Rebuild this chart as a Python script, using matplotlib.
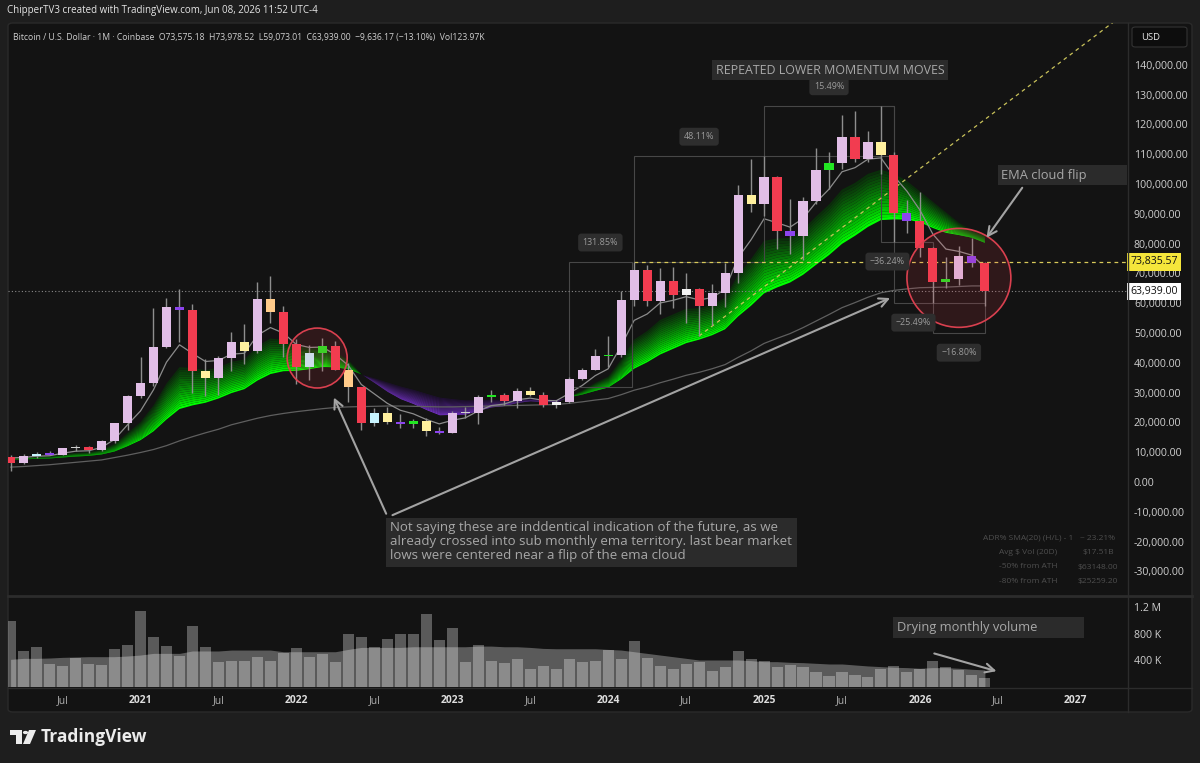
import numpy as np
import pandas as pd
import matplotlib
matplotlib.use("Agg")
import matplotlib.pyplot as plt
from matplotlib.patches import Ellipse, FancyBboxPatch, Rectangle, Polygon, Circle
from matplotlib.lines import Line2D
from matplotlib.colors import to_rgb
from matplotlib.ticker import FuncFormatter

plt.rcParams['font.family'] = ['Open Sans', 'DejaVu Sans']

# colores
BG_OUT = '#1e1e1e'
BG_IN = '#131313'
SEP = '#2c2c2c'
TXT = '#cfcfcf'
BOX = '#2b2b2b'
WICK = '#8e8e8e'
CANDLE_COL = {'r': '#f23c50', 'p': '#e1bee7', 'u': '#8c44ee', 'y': '#fff09e',
              'o': '#ffcb8a', 'c': '#c8f4ff', 'g': '#22e622', 'w': '#f2f2f2',
              'x': '#cfcfcf'}

W, H = 1200, 763

# ---------------- datos (velas mensuales BTC/USD, miles de USD) ----------------
months = pd.date_range('2020-03-01', '2026-06-01', freq='MS')

open_k = [8.52, 6.41, 8.62, 9.45, 9.14, 11.35, 11.66, 10.78, 13.80, 19.71,
          28.99, 33.11, 45.14, 58.79, 57.72, 37.33, 35.04, 41.46, 47.13, 43.82,
          61.30, 57.00, 46.21, 38.47, 43.19, 45.54, 37.71, 31.79, 19.94, 23.30,
          20.05, 19.43, 20.49, 17.17, 16.54, 23.13, 23.15, 28.47, 29.25, 27.21,
          30.47, 29.23, 25.94, 26.97, 34.66, 37.72, 42.27, 42.58, 61.13, 71.29,
          60.64, 67.49, 62.75, 64.62, 58.97, 63.33, 70.22, 96.41, 93.39, 102.41,
          84.35, 82.55, 94.21, 104.64, 107.14, 115.76, 108.25, 114.05, 109.60, 90.40,
          87.50, 78.50, 67.00, 68.20, 75.80, 73.58]
high_k = [9.19, 9.47, 10.08, 10.38, 11.45, 12.49, 12.08, 14.10, 19.94, 29.30,
          41.95, 58.35, 61.79, 64.90, 59.60, 41.33, 42.40, 50.50, 52.92, 67.01,
          69.00, 59.10, 47.99, 45.82, 48.24, 47.46, 40.00, 31.99, 24.67, 25.21,
          22.80, 21.09, 21.48, 18.39, 23.96, 25.25, 29.19, 31.00, 29.82, 31.43,
          31.80, 30.18, 27.49, 35.20, 38.42, 44.73, 48.97, 63.99, 73.84, 72.80,
          71.95, 71.98, 70.01, 65.00, 66.50, 73.60, 99.59, 108.27, 109.35, 102.75,
          95.04, 95.76, 111.98, 110.60, 123.23, 124.46, 117.90, 126.27, 110.70, 94.60,
          97.30, 79.00, 75.50, 79.20, 81.90, 73.98]
low_k = [3.85, 6.15, 8.11, 8.90, 8.99, 10.53, 9.88, 10.37, 13.21, 17.57,
         28.13, 32.30, 44.96, 47.04, 30.00, 28.80, 29.28, 37.33, 39.60, 43.28,
         53.26, 42.00, 32.92, 34.32, 37.16, 37.70, 26.70, 17.59, 18.78, 19.52,
         18.15, 18.19, 15.48, 16.26, 16.50, 21.35, 19.57, 26.94, 25.81, 24.75,
         28.86, 25.33, 24.90, 26.55, 34.10, 37.62, 38.55, 41.88, 59.00, 59.10,
         56.50, 58.40, 53.50, 49.00, 52.55, 58.87, 66.80, 90.50, 89.16, 78.17,
         76.56, 74.42, 93.30, 98.20, 105.12, 107.30, 107.25, 103.50, 80.50, 83.50,
         75.50, 60.00, 65.10, 66.10, 72.10, 59.07]
close_k = [6.41, 8.62, 9.45, 9.14, 11.35, 11.66, 10.78, 13.80, 19.71, 28.99,
           33.11, 45.14, 58.79, 57.72, 37.33, 35.04, 41.46, 47.13, 43.82, 61.30,
           57.00, 46.21, 38.47, 43.19, 45.54, 37.71, 31.79, 19.94, 23.30, 20.05,
           19.43, 20.49, 17.17, 16.54, 23.13, 23.15, 28.47, 29.25, 27.21, 30.47,
           29.23, 25.94, 26.97, 34.66, 37.72, 42.27, 42.58, 61.13, 71.29, 60.64,
           67.49, 62.75, 64.62, 58.97, 63.33, 70.22, 96.41, 93.39, 102.41, 84.35,
           82.55, 94.21, 104.64, 107.14, 115.76, 108.25, 114.05, 109.60, 90.40, 87.50,
           78.50, 67.00, 68.20, 75.80, 73.58, 63.94]
candle_kind = list('rpcupxrppp' 'pppuryppyp' 'orrcgrorcy' 'ugyupxpgrp'
                   'yrwpppgppr' 'prwrpppypr' 'uppgprpyru' 'rrgpur')

# volumen mensual (millones) y su media
volume_m = [0.99, 0.53, 0.60, 0.34, 0.31, 0.43, 0.34, 0.33, 0.57, 0.62,
            1.14, 0.75, 0.61, 0.46, 0.92, 0.60, 0.37, 0.39, 0.39, 0.45,
            0.39, 0.51, 0.58, 0.45, 0.49, 0.37, 0.79, 0.75, 0.60, 0.72,
            0.80, 0.79, 1.09, 0.70, 0.88, 0.37, 0.62, 0.38, 0.35, 0.41,
            0.27, 0.31, 0.27, 0.41, 0.37, 0.38, 0.55, 0.41, 0.68, 0.43,
            0.31, 0.27, 0.34, 0.37, 0.24, 0.29, 0.54, 0.42, 0.38, 0.30,
            0.33, 0.29, 0.22, 0.16, 0.22, 0.17, 0.15, 0.26, 0.31, 0.22,
            0.27, 0.385, 0.29, 0.25, 0.18, 0.124]
volume_ma_m = [0.41, 0.425, 0.425, 0.43, 0.44, 0.445, 0.45, 0.45, 0.45, 0.46,
               0.475, 0.50, 0.50, 0.50, 0.536, 0.536, 0.536, 0.55, 0.55, 0.55,
               0.55, 0.525, 0.525, 0.525, 0.525, 0.525, 0.56, 0.59, 0.59, 0.59,
               0.59, 0.60, 0.60, 0.60, 0.60, 0.60, 0.61, 0.61, 0.60, 0.60,
               0.59, 0.575, 0.57, 0.57, 0.57, 0.57, 0.56, 0.55, 0.525, 0.50,
               0.475, 0.45, 0.425, 0.40, 0.40, 0.40, 0.40, 0.39, 0.375, 0.375,
               0.365, 0.36, 0.35, 0.34, 0.34, 0.325, 0.31, 0.30, 0.29, 0.285,
               0.275, 0.285, 0.285, 0.275, 0.26, 0.25]

# lineas del indicador (miles de USD)
ema_fast_k = [8.07, 8.25, 8.65, 8.81, 9.66, 10.33, 10.48, 11.59, 14.30, 19.20,
              23.84, 30.94, 40.22, 46.05, 43.14, 40.44, 40.78, 42.90, 43.21, 49.24,
              51.83, 49.96, 46.13, 45.15, 45.28, 42.76, 39.10, 32.71, 29.57, 26.40,
              24.08, 22.88, 20.98, 19.50, 20.71, 21.52, 23.84, 25.64, 26.16, 27.60,
              28.14, 27.41, 27.26, 29.73, 32.39, 35.68, 37.98, 45.70, 54.23, 56.37,
              60.08, 60.97, 62.19, 61.12, 61.86, 64.65, 75.24, 81.29, 88.33, 87.00,
              85.52, 88.42, 93.83, 98.27, 104.10, 105.48, 108.34, 108.76, 102.64, 97.59,
              91.23, 83.15, 78.17, 77.38, 76.11, 72.05]
cloud_fast_k = [8.04, 8.17, 8.45, 8.60, 9.21, 9.76, 9.98, 10.83, 12.80, 16.40,
                20.11, 25.67, 33.03, 38.52, 38.25, 37.54, 38.41, 40.35, 41.12, 45.60,
                48.14, 47.71, 45.66, 45.11, 45.20, 43.54, 40.93, 36.27, 33.38, 30.42,
                27.98, 26.31, 24.28, 22.56, 22.69, 22.79, 24.05, 25.21, 25.65, 26.72,
                27.28, 26.98, 26.98, 28.69, 30.69, 33.27, 35.34, 41.07, 47.78, 50.64,
                54.38, 56.24, 58.11, 58.30, 59.41, 61.82, 69.50, 74.81, 80.94, 81.70,
                81.89, 84.63, 89.07, 93.09, 98.13, 100.38, 103.41, 104.79, 103.5, 101.0,
                97.5, 94.0, 90.5, 87.0, 84.5, 82.9]
cloud_slow_k = [7.49, 7.60, 7.77, 7.90, 8.23, 8.56, 8.77, 9.25, 10.25, 12.03,
                14.04, 17.00, 20.98, 24.48, 25.70, 26.59, 28.01, 29.83, 31.16, 34.03,
                36.22, 37.17, 37.29, 37.85, 38.59, 38.50, 37.86, 36.16, 34.93, 33.52,
                32.17, 31.06, 29.74, 28.48, 27.97, 27.52, 27.61, 27.76, 27.71, 27.97,
                28.09, 27.89, 27.80, 28.45, 29.34, 30.57, 31.71, 34.52, 38.02, 40.17,
                42.77, 44.68, 46.58, 47.76, 49.24, 51.24, 55.54, 59.15, 63.27, 65.27,
                66.92, 69.52, 72.86, 76.13, 79.90, 82.60, 85.60, 87.88, 88.12, 88.06,
                87.15, 85.23, 83.61, 82.87, 81.98, 80.27]
ma_long_k = [5.0, 5.2, 5.5, 5.8, 6.2, 6.6, 7.0, 7.4, 8.2, 9.0,
             9.9, 10.9, 12.2, 13.8, 15.2, 16.5, 17.7, 19.2, 20.3, 21.4,
             22.3, 23.0, 23.6, 24.1, 24.6, 25.0, 25.2, 25.3, 25.4, 25.5,
             25.5, 25.4, 25.3, 25.2, 25.2, 25.3, 25.4, 25.5, 25.6, 25.7,
             25.8, 25.9, 26.0, 26.4, 26.9, 27.5, 28.0, 29.3, 30.8, 31.9,
             33.3, 34.5, 35.8, 36.8, 38.0, 39.4, 41.8, 44.0, 46.5, 48.2,
             49.8, 51.8, 54.0, 56.2, 58.5, 60.2, 62.0, 63.5, 64.3, 64.8,
             65.2, 65.3, 65.4, 65.6, 65.8, 65.8]

ath_k = 73.83557
last_k = 63.939

# ---------------- figura ----------------
fig = plt.figure(figsize=(12, 7.63), dpi=100, facecolor=BG_OUT)


def fx(px):
    return px / W


def fy(py):
    return 1 - py / H


frame = FancyBboxPatch((fx(8), fy(712)), fx(1192) - fx(8), fy(23) - fy(712),
                       boxstyle='round,pad=0,rounding_size=0.004',
                       transform=fig.transFigure, fc=BG_IN, ec='#2a2a2a', lw=1, zorder=-5)
fig.patches.append(frame)

ax = fig.add_axes([fx(8), fy(595), fx(1127) - fx(8), fy(23) - fy(595)])
axv = fig.add_axes([fx(8), fy(687), fx(1127) - fx(8), fy(597) - fy(687)], sharex=ax)
for a in (ax, axv):
    a.set_facecolor('none')
    for s in a.spines.values():
        s.set_visible(False)

n = len(months)
x = np.arange(n)

# ---- nube EMA con degradado ----
def ramp(c0, c1, k, gamma):
    c0 = np.array(to_rgb(c0))
    c1 = np.array(to_rgb(c1))
    return [tuple(c0 + (c1 - c0) * (j / (k - 1)) ** gamma) for j in range(k)]


xf = np.linspace(0, n - 1, (n - 1) * 20 + 1)
ff = np.interp(xf, x, cloud_fast_k)
sf = np.interp(xf, x, cloud_slow_k)
lo = np.minimum(ff, sf)
hi = np.maximum(ff, sf)
bull = ff >= sf
layers = 18
greens = ramp('#00ff00', '#0a2e0a', layers, 0.8)
purples = ramp('#7a33d2', '#1f0f33', layers, 0.8)
for k in range(layers):
    a0 = lo + (hi - lo) * k / layers
    a1 = lo + (hi - lo) * (k + 1) / layers
    ax.fill_between(xf, a0, a1, where=bull, color=greens[k], lw=0, zorder=1)
    ax.fill_between(xf, a0, a1, where=~bull, color=purples[k], lw=0, zorder=1)

ax.plot(x, ma_long_k, color='#5f5f5f', lw=0.9, zorder=2)
ax.plot(x, ema_fast_k, color='#8c8c8c', lw=0.9, zorder=2)

# linea de tendencia y niveles
ax.plot([53, 86], [49.0, 158.0], color='#c9c25a', lw=0.9, ls=(0, (3, 3)), zorder=2.5)
ax.plot([48, 86], [ath_k, ath_k], color='#d8c95a', lw=0.9, ls=(0, (3, 3)), zorder=2.5)
ax.axhline(last_k, color='#8a8a8a', lw=0.8, ls=(0, (1, 2)), zorder=2.5)

# cajas de medicion
measure_boxes = [(43, 47.8, 31.85, 73.84, '131.85%', 1),
                 (48, 58, 73.84, 109.35, '48.11%', 1),
                 (58, 68, 109.35, 126.27, '15.49%', 1),
                 (67, 68, 126.27, 80.5, '\u221236.24%', -1),
                 (68, 71, 80.5, 60.0, '\u221225.49%', -1),
                 (71, 75, 60.0, 49.92, '\u221216.80%', -1)]
for i0, i1, p0, p1, lab, side in measure_boxes:
    ax.add_patch(Rectangle((i0, min(p0, p1)), i1 - i0, abs(p1 - p0), fill=False,
                           ec='#474747', lw=0.8, zorder=2))
    yref = max(p0, p1) if side > 0 else min(p0, p1)
    ax.annotate(lab, xy=((i0 + i1) / 2, yref), xytext=(0, 14 * side),
                textcoords='offset points', ha='center', va='center',
                fontsize=6.4, color='#9b9b9b', zorder=7,
                bbox=dict(boxstyle='round,pad=0.5,rounding_size=0.35', fc='#2e2e2e', ec='none'))

# velas
body_lo = np.minimum(open_k, close_k)
body_h = np.maximum(np.abs(np.array(close_k) - np.array(open_k)), 0.45)
ax.vlines(x, low_k, high_k, color=WICK, lw=1.0, zorder=3)
ax.bar(x, body_h, bottom=body_lo, width=0.7,
       color=[CANDLE_COL[c] for c in candle_kind], lw=0, zorder=4)

# circulos
ax.add_patch(Ellipse((23.6, 41.6), 4.62, 20.1, fc=(0.95, 0.24, 0.31, 0.13),
                     ec='#d9404f', lw=1.2, zorder=5))
ax.add_patch(Ellipse((73.0, 68.5), 8.0, 33.2, fc=(0.95, 0.24, 0.31, 0.13),
                     ec='#d9404f', lw=1.2, zorder=5))

# flechas
arrow_kw = dict(arrowstyle='->', color='#a3a3a3', lw=1.5, mutation_scale=16)
ax.annotate('', xy=(24.8, 29.2), xytext=(29.0, -11.5), arrowprops=arrow_kw, zorder=6)
ax.annotate('', xy=(67.9, 62.1), xytext=(29.2, -11.5), arrowprops=arrow_kw, zorder=6)
ax.annotate('', xy=(75.0, 81.2), xytext=(78.0, 99.5), arrowprops=arrow_kw, zorder=6)

ax.set_xlim(-0.2, 85.94)
ax.set_ylim((482 - 595) / 2.98, (482 - 23) / 2.98)
ax.yaxis.tick_right()
ax.set_yticks(np.arange(-30, 141, 10))
ax.yaxis.set_major_formatter(FuncFormatter(lambda v, p: f'{v * 1000:,.2f}'))
ax.tick_params(axis='y', length=0, pad=5, labelsize=7.6, labelcolor=TXT)
ax.tick_params(axis='x', bottom=False, labelbottom=False)

# etiquetas de precio en el eje
for val, txt, bg in [(ath_k, '73,835.57', '#f5e63b'), (last_k, '63,939.00', '#ffffff')]:
    ax.text(1.003, val, txt, transform=ax.get_yaxis_transform(), ha='left', va='center',
            fontsize=7.6, color='#111111', zorder=8,
            bbox=dict(boxstyle='square,pad=0.3', fc=bg, ec='none'))

# ---- volumen ----
axv.fill_between(x, 0, volume_ma_m, color='white', alpha=0.30, lw=0, zorder=1)
axv.bar(x, volume_m, width=0.85, color='white', alpha=0.30, lw=0, zorder=2)
axv.annotate('', xy=(76.1, 0.22), xytext=(70.9, 0.51), arrowprops=arrow_kw, zorder=6)
axv.set_ylim((686.5 - 687) / 66.25, (686.5 - 597) / 66.25)
axv.yaxis.tick_right()
axv.set_yticks([0.4, 0.8, 1.2])
axv.set_yticklabels(['400 K', '800 K', '1.2 M'])
axv.tick_params(axis='y', length=0, pad=5, labelsize=7.6, labelcolor=TXT)

tick_dates = pd.date_range('2020-07-01', '2027-01-01', freq='6MS')
tick_pos = [(d.year - 2020) * 12 + d.month - 3 for d in tick_dates]
tick_lab = [str(d.year) if d.month == 1 else 'Jul' for d in tick_dates]
axv.set_xticks(tick_pos)
axv.set_xticklabels(tick_lab)
axv.tick_params(axis='x', length=0, pad=6, labelsize=7.4)
for t, lab in zip(axv.get_xticklabels(), tick_lab):
    if lab == 'Jul':
        t.set_color('#b0b0b0')
    else:
        t.set_color('#dedede')
        t.set_fontweight('bold')

# separadores
fig.add_artist(Line2D([fx(8), fx(1192)], [fy(596)] * 2, color=SEP, lw=2))
fig.add_artist(Line2D([fx(8), fx(1192)], [fy(687.5)] * 2, color=SEP, lw=1))
fig.add_artist(Line2D([fx(1127.5)] * 2, [fy(23), fy(712)], color=SEP, lw=1))

# ---- textos ----
fig.text(fx(7), fy(11), 'ChipperTV3 created with TradingView.com, Jun 08, 2026 11:52 UTC-4',
         fontsize=7.0, color='#e6e6e6', va='center', ha='left')
fig.text(fx(13), fy(37.5),
         'Bitcoin / U.S. Dollar \u00b7 1M \u00b7 Coinbase  O73,575.18  H73,978.52  L59,073.01  '
         'C63,939.00  \u22129,636.17 (\u221213.10%)  Vol123.97K',
         fontsize=6.2, color=TXT, va='center', ha='left')

fig.patches.append(FancyBboxPatch((fx(1132), fy(47)), fx(1187) - fx(1132), fy(27) - fy(47),
                                  boxstyle='round,pad=0,rounding_size=0.003',
                                  transform=fig.transFigure, fc='#0d0d0d', ec='#333333', lw=0.8))
fig.text(fx(1141), fy(37), 'USD', fontsize=6.8, color='#e6e6e6', va='center', ha='left')


def text_box(x0, y0, x1, y1, s, tx, ty, size, ha='left'):
    fig.patches.append(Rectangle((fx(x0), fy(y1)), fx(x1) - fx(x0), fy(y0) - fy(y1),
                                 transform=fig.transFigure, fc=BOX, ec='none', zorder=3))
    fig.text(fx(tx), fy(ty), s, fontsize=size, color='#a8a8a8', va='center', ha=ha,
             zorder=4, linespacing=1.08)


text_box(712, 60, 948, 80, 'REPEATED LOWER MOMENTUM MOVES', 830, 70, 8.9, ha='center')
text_box(998, 165, 1127, 185, 'EMA cloud flip', 1001, 175, 9.3)
text_box(893, 617, 1084, 638, 'Drying monthly volume', 897, 627.5, 9.3)
text_box(386, 518, 797, 567,
         'Not saying these are inddentical indication of the future, as we\n'
         'already crossed into sub monthly ema territory. last bear market\n'
         'lows were centered near a flip of the ema cloud', 390, 541.5, 9.5)

stats_left = ['ADR% SMA(20) (H/L) - 1', 'Avg $ Vol (20D)', '-50% from ATH', '-80% from ATH']
stats_right = ['~ 23.21%', '$17.51B', '$63148.00', '$25259.20']
for j, (l, r) in enumerate(zip(stats_left, stats_right)):
    yy = 538 + j * 14.5
    fig.text(fx(1028), fy(yy), l, fontsize=6.0, color='#4e4e4e', ha='center', va='center')
    fig.text(fx(1098), fy(yy), r, fontsize=6.0, color='#4e4e4e', ha='center', va='center')

# logo TradingView
logo = '#ececec'
fig.patches.append(Rectangle((fx(10), fy(735)), fx(22) - fx(10), fy(730) - fy(735),
                             transform=fig.transFigure, fc=logo, ec='none'))
fig.patches.append(Rectangle((fx(15.5), fy(744)), fx(22) - fx(15.5), fy(730) - fy(744),
                             transform=fig.transFigure, fc=logo, ec='none'))
fig.patches.append(Circle((fx(25.5), fy(732.5)), 2.6 / W, transform=fig.transFigure,
                          fc=logo, ec='none'))
fig.patches.append(Polygon([(fx(29), fy(730)), (fx(36), fy(730)), (fx(30), fy(744)), (fx(23), fy(744))],
                           closed=True, transform=fig.transFigure, fc=logo, ec='none'))
fig.text(fx(41), fy(737), 'TradingView', fontsize=12.5, fontweight='bold', color=logo,
         va='center', ha='left')

fig.savefig('out.png', dpi=100, facecolor=BG_OUT)
